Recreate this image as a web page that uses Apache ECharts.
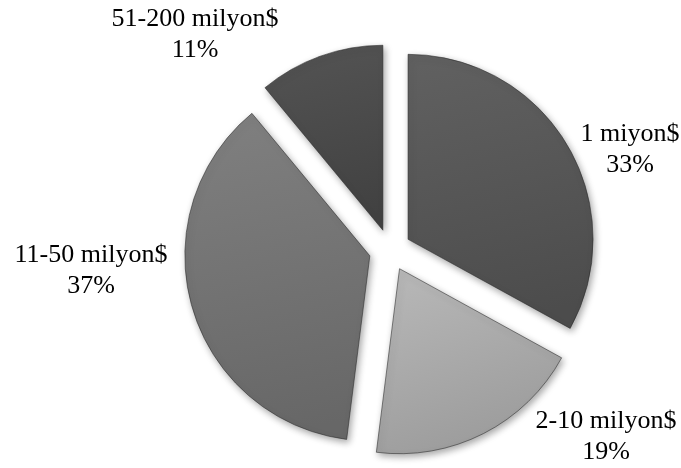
<!DOCTYPE html>
<html>
<head>
<meta charset="utf-8">
<script src="https://cdn.jsdelivr.net/npm/echarts@6/dist/echarts.min.js"></script>
<style>
  html, body { margin: 0; padding: 0; background: #ffffff; }
  #chart { width: 681px; height: 468px; }
</style>
</head>
<body>
<div id="chart"></div>
<script>
// Company size groups and their shares (%)
const categories = ['1 miyon$', '2-10 milyon$', '11-50 milyon$', '51-200 milyon$'];
const shares = [33, 19, 37, 11];

// Grey fill per slice: [top shade, bottom shade]
const sliceShades = [
  ['#616161', '#4c4c4c'],
  ['#b9b9b9', '#9d9d9d'],
  ['#808080', '#676767'],
  ['#545454', '#414141']
];

// Label centre point per slice
const labelAnchors = [
  [630, 150],
  [606, 437],
  [91, 271],
  [195, 35]
];

function shadeFill(pair) {
  return new echarts.graphic.LinearGradient(0, 0, 0.35, 1, [
    { offset: 0, color: pair[0] },
    { offset: 1, color: pair[1] }
  ]);
}

const total = shares.reduce((a, b) => a + b, 0);

const pieData = categories.map((name, i) => {
  const style = {
    color: shadeFill(sliceShades[i]),
    borderColor: 'rgba(40,40,40,0.55)',
    borderWidth: 1,
    shadowBlur: 7,
    shadowOffsetX: 2,
    shadowOffsetY: 3,
    shadowColor: 'rgba(0,0,0,0.35)'
  };
  return {
    name: name,
    value: shares[i],
    selected: true,
    itemStyle: style,
    select: { itemStyle: style }
  };
});

// Category name with its share, one text block per slice
const labelTexts = categories.map((name, i) => ({
  type: 'text',
  x: labelAnchors[i][0],
  y: labelAnchors[i][1],
  silent: true,
  style: {
    text: name + '\n' + Math.round(shares[i] / total * 100) + '%',
    fontFamily: '"Liberation Serif", "Times New Roman", serif',
    fontSize: 26,
    lineHeight: 31,
    fill: '#000000',
    align: 'center',
    verticalAlign: 'middle'
  }
}));

const chart = echarts.init(document.getElementById('chart'), null, { renderer: 'canvas' });
chart.setOption({
  animation: false,
  backgroundColor: '#ffffff',
  graphic: labelTexts,
  series: [{
    type: 'pie',
    center: [390, 250],
    radius: 185,
    startAngle: 90,
    clockwise: true,
    selectedMode: 'multiple',
    selectedOffset: 21,
    emphasis: { disabled: true },
    label: { show: false },
    labelLine: { show: false },
    data: pieData
  }]
});
</script>
</body>
</html>
